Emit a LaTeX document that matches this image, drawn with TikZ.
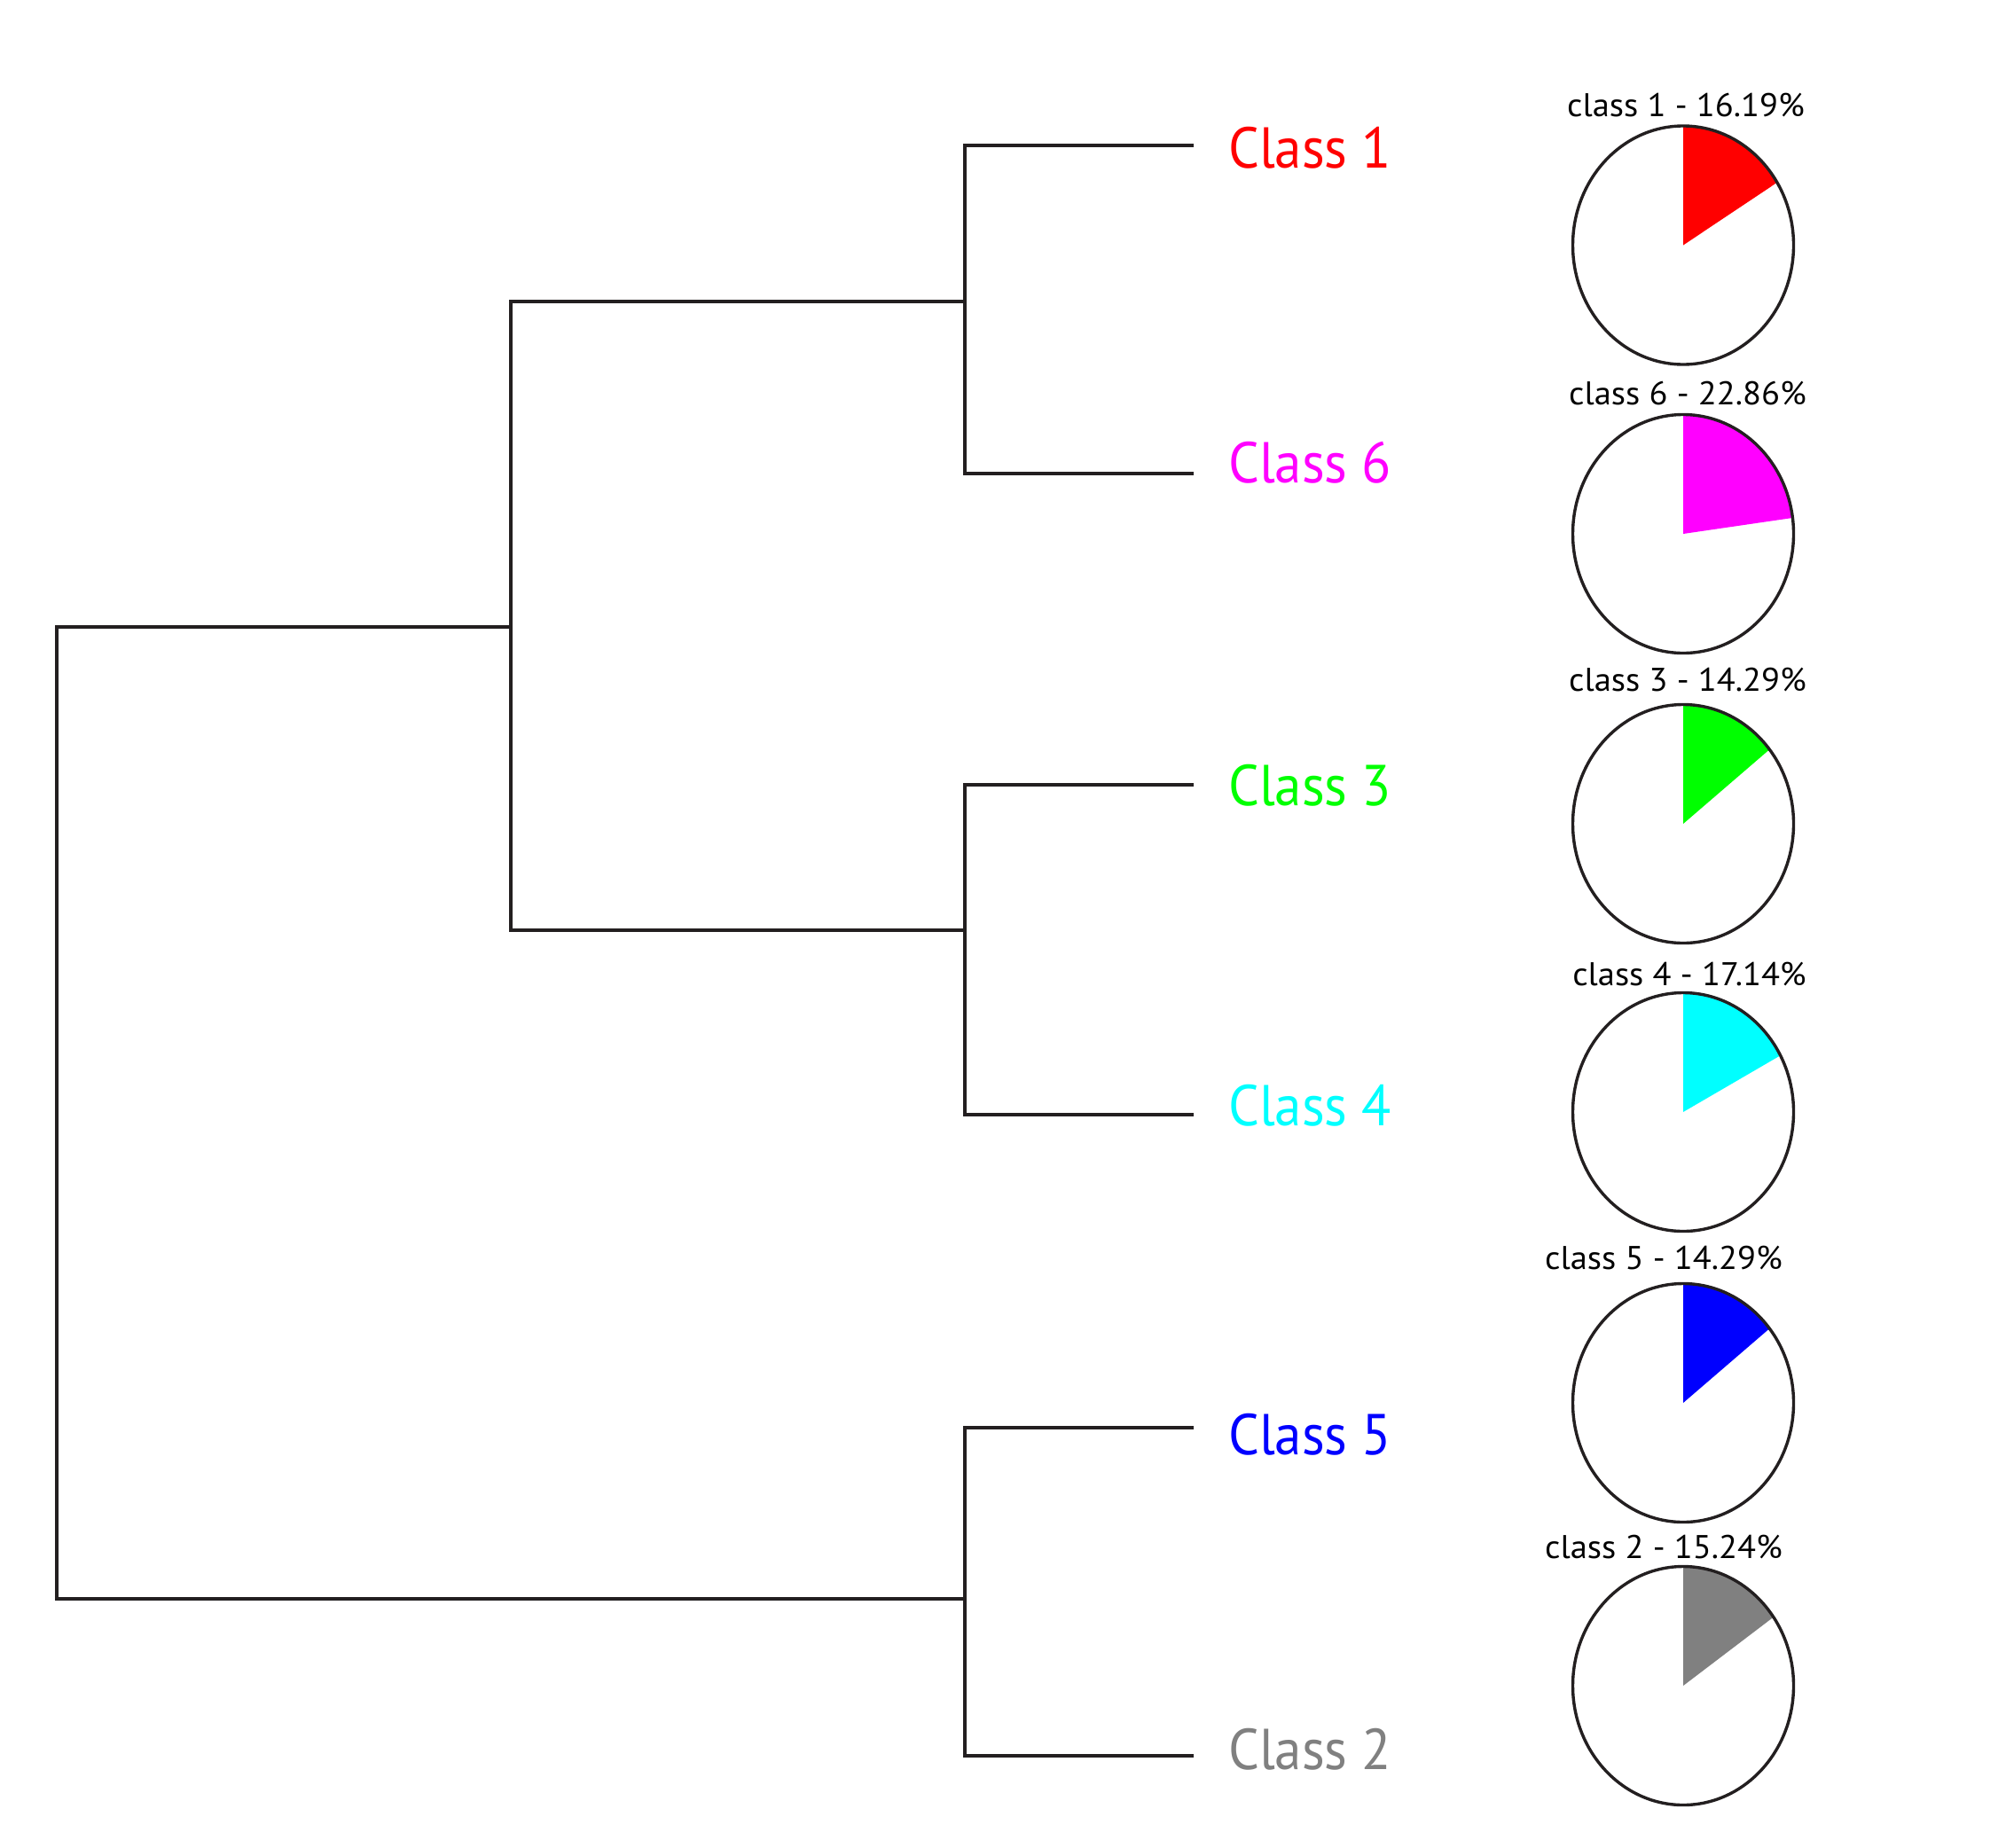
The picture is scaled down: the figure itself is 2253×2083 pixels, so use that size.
\documentclass[tikz,border=0pt]{standalone}
\usepackage{fontspec}
\setmainfont{PT Sans}
\newfontfamily\labelfont[FakeStretch=0.94]{PT Sans}
\newfontfamily\titlefont[FakeStretch=1.04]{PT Sans}
\definecolor{ink}{HTML}{231F20}
\definecolor{c1}{HTML}{FF0000}
\definecolor{c6}{HTML}{FF00FF}
\definecolor{c3}{HTML}{00FF00}
\definecolor{c4}{HTML}{00FFFF}
\definecolor{c5}{HTML}{0000FF}
\definecolor{c2}{HTML}{808080}
\newcommand\drawpie[3]{% name, color, end angle
  \fill[#2] (#1) -- ++(0,134.5) arc[start angle=90, end angle=#3, x radius=124.5, y radius=134.5] -- cycle;
  \draw[pieoutline] (#1) ellipse [x radius=124.5, y radius=134.5];
}
\begin{document}
\begin{tikzpicture}[x=1pt,y=1pt,
  link/.style={draw=ink, line width=3.4pt, line join=miter},
  pieoutline/.style={draw=ink, line width=3.4pt},
  leaflabel/.style={anchor=base west, inner sep=0pt, font=\labelfont\fontsize{65}{78}\selectfont},
  pietitle/.style={anchor=base, inner sep=0pt, text=black, font=\titlefont\fontsize{37}{44}\selectfont}]
\useasboundingbox[fill=white] (0,0) rectangle (2253,-2083);
% leaf ends
\coordinate (L1) at (1346,-164);
\coordinate (L6) at (1346,-534);
\coordinate (L3) at (1346,-885);
\coordinate (L4) at (1346,-1257);
\coordinate (L5) at (1346,-1610);
\coordinate (L2) at (1346,-1980);
% junctions
\coordinate (J16) at (1088,-340);
\coordinate (J34) at (1088,-1049);
\coordinate (J52) at (1088,-1803);
\coordinate (J1634) at (576,-707);
\coordinate (Rt) at (64,-707);
\coordinate (Rb) at (64,-1803);
% dendrogram
\draw[link] (L1) -| (J16) |- (L6);
\draw[link] (L3) -| (J34) |- (L4);
\draw[link] (L5) -| (J52) |- (L2);
\draw[link] (J16) -| (J1634) |- (J34);
\draw[link] (J1634) -- (Rt) -- (Rb) -- (J52);
% labels
\node[leaflabel, text=c1] (lab1) at (1385,-189) {Class 1};
\node[leaflabel, text=c6] (lab6) at (1385,-544) {Class 6};
\node[leaflabel, text=c3] (lab3) at (1385,-908) {Class 3};
\node[leaflabel, text=c4] (lab4) at (1385,-1269) {Class 4};
\node[leaflabel, text=c5] (lab5) at (1385,-1640) {Class 5};
\node[leaflabel, text=c2] (lab2) at (1385,-1995) {Class 2};
% pies
\coordinate (P1) at (1898,-276.5);
\coordinate (P6) at (1898,-602);
\coordinate (P3) at (1898,-929);
\coordinate (P4) at (1898,-1254);
\coordinate (P5) at (1898,-1582);
\coordinate (P2) at (1898,-1901);
\drawpie{P1}{c1}{31.72}
\drawpie{P6}{c6}{7.70}
\drawpie{P3}{c3}{38.56}
\drawpie{P4}{c4}{28.30}
\drawpie{P5}{c5}{38.56}
\drawpie{P2}{c2}{35.14}
% pie titles
\node[pietitle] (t1) at (1901,-131) {class 1 - 16.19\%};
\node[pietitle] (t6) at (1903,-456) {class 6 - 22.86\%};
\node[pietitle] (t3) at (1903,-779) {class 3 - 14.29\%};
\node[pietitle] (t4) at (1905,-1111) {class 4 - 17.14\%};
\node[pietitle] (t5) at (1876,-1431) {class 5 - 14.29\%};
\node[pietitle] (t2) at (1876,-1757) {class 2 - 15.24\%};
\end{tikzpicture}
\end{document}
